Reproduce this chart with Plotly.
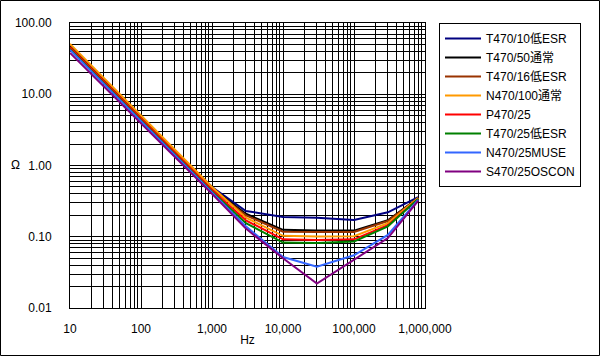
import plotly.graph_objects as go

freqs = [10, 100, 1000, 3000, 10000, 30000, 100000, 300000, 800000]

names = ["T470/10低ESR", "T470/50通常", "T470/16低ESR", "N470/100通常",
         "P470/25", "T470/25低ESR", "N470/25MUSE", "S470/25OSCON"]

t470_10 = [44, 4.6, 0.50, 0.23, 0.19, 0.185, 0.172, 0.22, 0.36]
t470_50 = [48, 4.8, 0.48, 0.21, 0.125, 0.122, 0.122, 0.17, 0.35]
t470_16 = [46, 4.7, 0.47, 0.20, 0.118, 0.117, 0.117, 0.166, 0.35]
n470_100 = [51, 5.1, 0.50, 0.185, 0.103, 0.101, 0.102, 0.155, 0.35]
p470_25 = [45, 4.5, 0.45, 0.17, 0.092, 0.090, 0.092, 0.145, 0.34]
t470_25 = [43, 4.3, 0.43, 0.155, 0.083, 0.082, 0.086, 0.14, 0.34]
n470_muse = [42, 4.2, 0.43, 0.14, 0.052, 0.038, 0.055, 0.106, 0.33]
s470_oscon = [38, 3.9, 0.40, 0.13, 0.050, 0.022, 0.047, 0.096, 0.32]

series = [t470_10, t470_50, t470_16, n470_100, p470_25, t470_25, n470_muse, s470_oscon]
colors = ["#000080", "#000000", "#993300", "#FF9900", "#FF0000", "#008000", "#3366FF", "#800080"]

x_tickvals = [10, 100, 1000, 10000, 100000, 1000000]
x_ticktext = ["10", "100", "1,000", "10,000", "100,000", "1,000,000"]
y_tickvals = [0.01, 0.1, 1, 10, 100]
y_ticktext = ["0.01", "0.10", "1.00", "10.00", "100.00"]

FONT = "Liberation Sans, Noto Sans CJK JP, sans-serif"

fig = go.Figure()
for name, vals, col in zip(names, series, colors):
    fig.add_trace(go.Scatter(x=freqs, y=vals, name=name, mode="lines",
                             line=dict(color=col, width=2)))

x_minor = [m * 10 ** d for d in range(1, 6) for m in range(2, 10)]
y_minor = [m * 10 ** d for d in range(-2, 2) for m in range(2, 10)]

W, H = 600, 356
L, R, T, B = 70, 175, 23, 48
pw, ph = W - L - R, H - T - B

fig.update_layout(
    width=W, height=H,
    margin=dict(l=L, r=R, t=T, b=B, autoexpand=False),
    paper_bgcolor="white", plot_bgcolor="white",
    font=dict(family=FONT, size=12, color="black"),
    showlegend=True,
    legend=dict(x=(439 - L) / pw, y=1, xanchor="left", yanchor="top",
                bordercolor="black", borderwidth=1, bgcolor="white",
                font=dict(family=FONT, size=12), tracegroupgap=0,
                itemwidth=36, entrywidth=95, entrywidthmode="pixels"),
    xaxis=dict(type="log", range=[1, 6], tickmode="array", automargin=False,
               tickvals=x_tickvals, ticktext=x_ticktext,
               showgrid=True, gridcolor="black", gridwidth=1,
               minor=dict(tickmode="array", tickvals=x_minor, showgrid=True,
                          gridcolor="black", gridwidth=1),
               showline=True, linecolor="black", linewidth=1, mirror=True,
               zeroline=False, ticks="", ticklabelstandoff=10,
               title=dict(text="Hz", standoff=0, font=dict(size=12))),
    yaxis=dict(type="log", range=[-2, 2], tickmode="array", automargin=False,
               tickvals=y_tickvals, ticktext=y_ticktext,
               showgrid=True, gridcolor="black", gridwidth=1,
               minor=dict(tickmode="array", tickvals=y_minor, showgrid=True,
                          gridcolor="black", gridwidth=1),
               showline=True, linecolor="black", linewidth=1, mirror=True,
               zeroline=False, ticks="", ticklabelstandoff=15),
    annotations=[dict(text="Ω", xref="paper", yref="paper",
                      x=(15 - L) / pw, y=(H - B - 165) / ph,
                      xanchor="center", yanchor="middle",
                      showarrow=False, font=dict(size=12))],
    shapes=[dict(type="rect", xref="paper", yref="paper",
                 x0=(0.5 - L) / pw, x1=(W - 0.5 - L) / pw,
                 y0=-(B - 0.5) / ph, y1=1 + (T - 0.5) / ph,
                 line=dict(color="black", width=1))],
)

fig.write_html("out.html", config={"displayModeBar": False, "staticPlot": True},
               post_script="document.body.style.margin='0';document.body.style.padding='0';")
